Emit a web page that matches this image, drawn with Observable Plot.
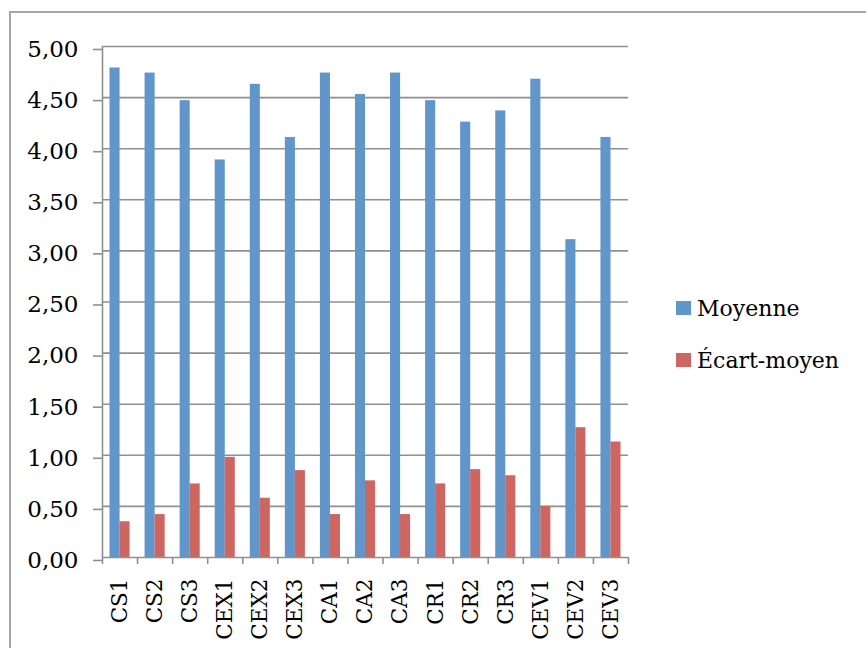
<!DOCTYPE html>
<html>
<head>
<meta charset="utf-8">
<script src="https://cdn.jsdelivr.net/npm/d3@7"></script>
<script src="https://cdn.jsdelivr.net/npm/@observablehq/plot@0.6"></script>
<style>
  html, body { margin: 0; padding: 0; background: #fff; }
  #wrap { position: relative; width: 866px; height: 648px; overflow: hidden; font-family: "DejaVu Serif", "Liberation Serif", serif; }
  #frame { position: absolute; left: 9px; top: 11px; width: 900px; height: 700px; border-left: 2px solid #a6a6a6; border-top: 2px solid #a6a6a6; }
  #chart { position: absolute; left: 0; top: 0; }
  #legend { position: absolute; left: 676px; top: 294px; font-size: 22px; color: #000; }
  .item { display: flex; align-items: center; height: 28px; margin-bottom: 24px; }
  .sw { width: 15px; height: 14px; margin-right: 6px; }
</style>
</head>
<body>
<div id="wrap">
  <div id="frame"></div>
  <div id="chart"></div>
  <div id="legend"></div>
</div>
<script>
const categories = ["CS1","CS2","CS3","CEX1","CEX2","CEX3","CA1","CA2","CA3","CR1","CR2","CR3","CEV1","CEV2","CEV3"];
const moyenne    = [4.79, 4.74, 4.47, 3.89, 4.63, 4.11, 4.74, 4.53, 4.74, 4.47, 4.26, 4.37, 4.68, 3.11, 4.11];
const ecartMoyen = [0.35, 0.42, 0.72, 0.98, 0.58, 0.85, 0.42, 0.75, 0.42, 0.72, 0.86, 0.80, 0.50, 1.27, 1.13];
const seriesNames = ["Moyenne", "Écart-moyen"];
const seriesColors = ["#6096C9", "#CD6661"];
const yTicks = [0, 0.5, 1, 1.5, 2, 2.5, 3, 3.5, 4, 4.5, 5];

const rowsM = categories.map((c, i) => ({cat: c, i, v: moyenne[i]}));
const rowsE = categories.map((c, i) => ({cat: c, i, v: ecartMoyen[i]}));
const n = categories.length;
const boundaries = d3.range(0, n + 1);
const centers = d3.range(0, n).map(i => i + 0.5);

const fmt = d => d.toFixed(2).replace(".", ",");
const FONT = "'DejaVu Serif', 'Liberation Serif', serif";

const chart = Plot.plot({
  width: 866,
  height: 648,
  marginLeft: 102,
  marginRight: 238,
  marginTop: 46,
  marginBottom: 91,
  style: {fontFamily: FONT, background: "transparent", color: "#000"},
  x: {type: "linear", domain: [0, n]},
  y: {domain: [0, 5]},
  marks: [
    Plot.ruleY(yTicks.filter(t => t > 0), {stroke: "#8f8f8f", strokeWidth: 1.6}),
    Plot.rectY(rowsM, {x1: "i", x2: d => d.i + 1, y: "v", fill: seriesColors[0], insetLeft: 7.5, insetRight: 17.5}),
    Plot.rectY(rowsE, {x1: "i", x2: d => d.i + 1, y: "v", fill: seriesColors[1], insetLeft: 17.5, insetRight: 7.5}),
    Plot.ruleX([0], {stroke: "#8f8f8f", strokeWidth: 1.6}),
    Plot.ruleY([0], {stroke: "#8f8f8f", strokeWidth: 1.6}),
    Plot.axisY({ticks: yTicks, tickFormat: fmt, tickSize: 9, tickPadding: 15, stroke: "#8f8f8f", strokeWidth: 1.6, fontSize: 23, fontFamily: FONT, dy: 3, label: null}),
    Plot.axisX({ticks: boundaries, tickFormat: () => "", tickSize: 7, stroke: "#8f8f8f", strokeWidth: 1.6, label: null}),
    Plot.axisX({ticks: centers, tickFormat: d => categories[Math.floor(d)], tickSize: 0, tickPadding: 21, tickRotate: -90, fontSize: 21.5, fontFamily: FONT, label: null})
  ]
});
document.getElementById("chart").appendChild(chart);

const legend = document.getElementById("legend");
seriesNames.forEach((name, k) => {
  const item = document.createElement("div");
  item.className = "item";
  const sw = document.createElement("div");
  sw.className = "sw";
  sw.style.background = seriesColors[k];
  const label = document.createElement("span");
  label.textContent = name;
  item.appendChild(sw);
  item.appendChild(label);
  legend.appendChild(item);
});
</script>
</body>
</html>
